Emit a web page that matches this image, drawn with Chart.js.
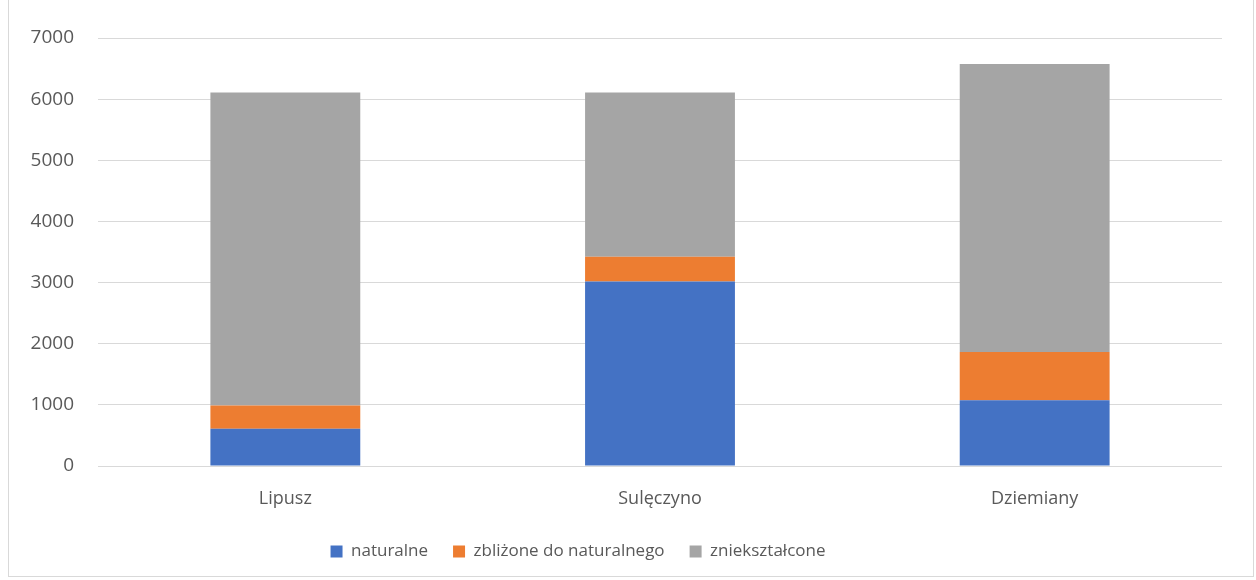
<!DOCTYPE html>
<html>
<head>
<meta charset="utf-8">
<script src="https://cdn.jsdelivr.net/npm/chart.js@4"></script>
<style>
  html, body { margin: 0; padding: 0; background: #fff; }
  #wrap { position: relative; width: 1256px; height: 580px; }
  #frame { position: absolute; left: 8px; top: -1px; width: 1246px; height: 578px; border: 1px solid #d9d9d9; box-sizing: border-box; pointer-events: none; }
</style>
</head>
<body>
<div id="wrap">
  <canvas id="myChart" width="1256" height="580"></canvas>
  <div id="frame"></div>
</div>
<script>
// dane
var miejscowosci = ['Lipusz', 'Sulęczyno', 'Dziemiany'];
var naturalne = [611, 3016, 1077];
var zblizone = [377, 405, 787];
var znieksztalcone = [5122, 2689, 4710];
var yTicks = [0, 1000, 2000, 3000, 4000, 5000, 6000, 7000];

Chart.defaults.font.family = '"Open Sans", "Liberation Sans", sans-serif';
Chart.defaults.color = '#595959';

// legenda w Excelu jest nieco przesunięta w lewo
var przesunLegende = {
    id: 'przesunLegende',
    afterLayout: function (chart) {
        chart.legend.left -= 33;
        chart.legend.right -= 33;
    }
};

var ctx = document.getElementById('myChart').getContext('2d');
var myChart = new Chart(ctx, {
    type: 'bar',
    data: {
        labels: miejscowosci,
        datasets: [
            { label: 'naturalne', data: naturalne, backgroundColor: '#4472C4' },
            { label: 'zbliżone do naturalnego', data: zblizone, backgroundColor: '#ED7D31' },
            { label: 'zniekształcone', data: znieksztalcone, backgroundColor: '#A5A5A5' }
        ]
    },
    plugins: [przesunLegende],
    options: {
        responsive: false,
        animation: false,
        layout: { padding: { top: 38, right: 34, left: 0, bottom: 10 } },
        datasets: {
            bar: { categoryPercentage: 1, barPercentage: 0.4 }
        },
        scales: {
            x: {
                stacked: true,
                grid: { display: false, drawTicks: false },
                border: { display: false },
                ticks: { padding: 22, font: { size: 18 } },
                afterFit: function (s) { s.height = 52; }
            },
            y: {
                stacked: true,
                min: 0,
                max: 7000,
                afterBuildTicks: function (s) { s.ticks = yTicks.map(v => ({ value: v })); },
                grid: { color: '#d9d9d9', lineWidth: 1, drawTicks: false },
                border: { display: false },
                ticks: { padding: 24, font: { size: 19 }, callback: v => String(v) },
                afterFit: function (s) { s.width = 98; }
            }
        },
        plugins: {
            legend: {
                position: 'bottom',
                labels: { boxWidth: 12, boxHeight: 12, padding: 25, font: { size: 17 } }
            },
            tooltip: { enabled: false }
        }
    }
});
</script>
</body>
</html>
